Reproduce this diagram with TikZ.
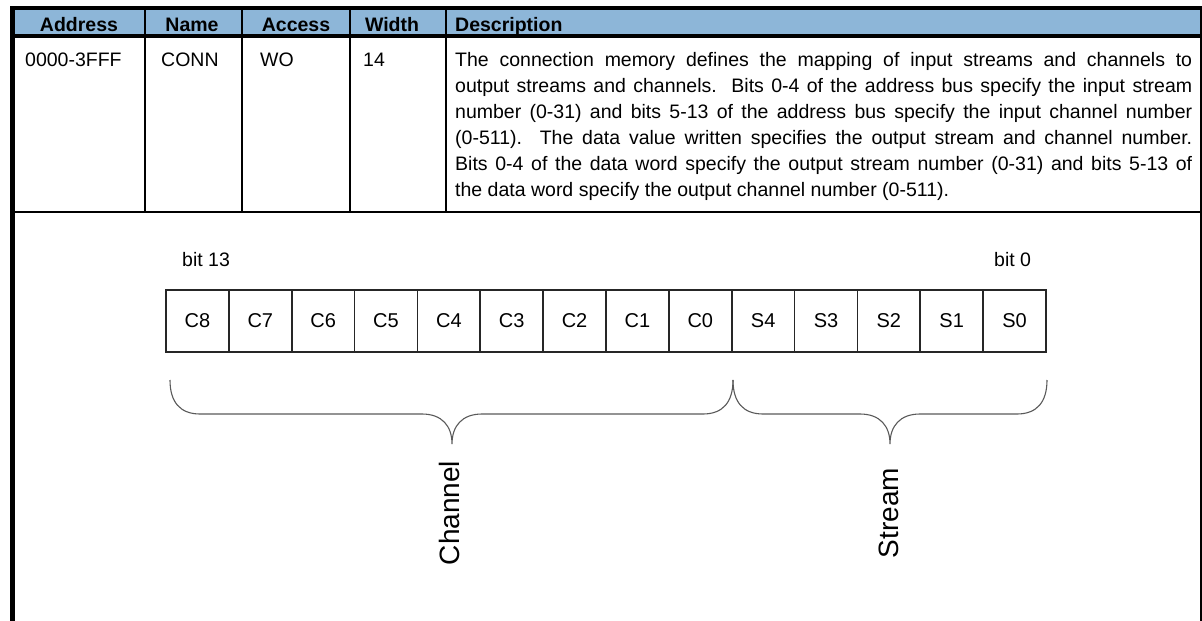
\documentclass[tikz,border=0pt]{standalone}
\usepackage{fontspec}
\setmainfont{Liberation Sans}
\definecolor{hdrblue}{RGB}{141,182,216}
\definecolor{bracegray}{RGB}{90,90,90}
\begin{document}
\begin{tikzpicture}[x=1pt,y=-1pt,
  hdrtext/.style={font=\bfseries\fontsize{19.5}{26}\selectfont, inner sep=0pt, anchor=base},
  celltext/.style={font=\fontsize{19.5}{26}\selectfont, inner sep=0pt, anchor=base west},
  rule/.style={line width=2pt, black},
  thickrule/.style={line width=4pt, black},
  bitbox/.style={draw=black!85, line width=1.6pt, minimum width=62.857pt, minimum height=62pt, inner sep=0pt, font=\fontsize{20}{24}\selectfont},
  bitlabel/.style={font=\fontsize{19.5}{24}\selectfont, inner sep=0pt, anchor=base west},
  bracestyle/.style={draw=bracegray, line width=1.1pt},
  biglabel/.style={font=\fontsize{28}{32}\selectfont, inner sep=0pt, rotate=90}
]
\useasboundingbox (0,0) rectangle (1202,621);
\fill[white] (0,0) rectangle (1202,621);
% header band
\fill[hdrblue] (12,8) rectangle (1202,36);
% table rules
\draw[thickrule] (10,8) -- (1202,8);
\draw[line width=3.5pt] (10,36) -- (1202,36);
\draw[rule] (12,212) -- (1202,212);
\draw[line width=4.5pt] (12.5,6) -- (12.5,621);
\draw[rule] (1201,6) -- (1201,621);
\foreach \cx in {145,242,350,446} \draw[rule] (\cx,8) -- (\cx,212);
% header texts
\node[hdrtext] (hAddr) at (79,31) {Address};
\node[hdrtext] (hName) at (192,31) {Name};
\node[hdrtext] (hAcc) at (296,31) {Access};
\node[hdrtext] (hWid) at (392,31) {Width};
\node[hdrtext, anchor=base west] (hDesc) at (455,31) {Description};
% row texts
\node[celltext] (cAddr) at (25,66) {0000-3FFF};
\node[celltext] (cName) at (161,66) {CONN};
\node[celltext] (cAcc) at (260,66) {WO};
\node[celltext] (cWid) at (363,66) {14};
\node[font=\fontsize{19.5}{26}\selectfont, inner sep=0pt, anchor=north west, text width=737pt, align=justify] (cDesc) at (455,51.8)
{The connection memory defines the mapping of input streams and channels to\linebreak
output streams and channels.\ \ Bits 0-4 of the address bus specify the input stream\linebreak
number (0-31) and bits 5-13 of the address bus specify the input channel number\linebreak
(0-511).\ \ The data value written specifies the output stream and channel number.\linebreak
Bits 0-4 of the data word specify the output stream number (0-31) and bits 5-13 of\linebreak
the data word specify the output channel number (0-511).};
% bit labels
\node[bitlabel] (b13) at (182,266) {bit 13};
\node[bitlabel] (b0) at (994,266) {bit 0};
% bit boxes
\foreach \lab [count=\i from 0] in {C8,C7,C6,C5,C4,C3,C2,C1,C0,S4,S3,S2,S1,S0}
  \node[bitbox] (bit\i) at ({166+(\i+0.5)*62.857},321) {\lab};
% braces
\draw[bracestyle] (170,380) .. controls (170,402) and (180,414) .. (200,414)
  -- (422,414) .. controls (442,414) and (452,426) .. (452,444)
  .. controls (452,426) and (462,414) .. (482,414)
  -- (703,414) .. controls (723,414) and (733,402) .. (733,380);
\draw[bracestyle] (733,380) .. controls (733,402) and (743,414) .. (763,414)
  -- (860,414) .. controls (880,414) and (890,426) .. (890,444)
  .. controls (890,426) and (900,414) .. (920,414)
  -- (1017,414) .. controls (1037,414) and (1047,402) .. (1047,380);
% brace labels
\node[biglabel] (lChan) at (449,513) {Channel};
\node[biglabel] (lStream) at (889,513) {Stream};
\end{tikzpicture}
\end{document}
